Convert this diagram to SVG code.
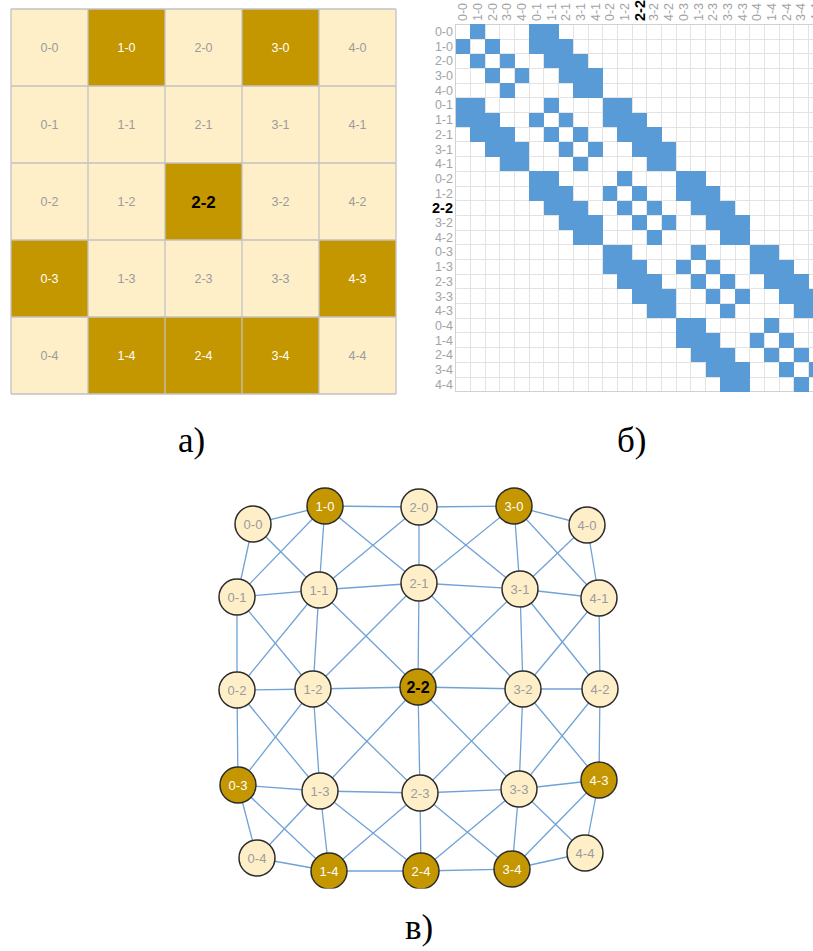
<svg xmlns="http://www.w3.org/2000/svg" width="813" height="951" viewBox="0 0 813 951">
  <style>
    .lt{fill:#FEEFC9}
    .dk{fill:#C49600}
    .t{font-family:"Liberation Sans",Arial,sans-serif;font-size:12.5px;text-anchor:middle;fill:#9b9b9b}
    .tw{fill:#ffffff}
    .tb{font-weight:bold;fill:#000000;font-size:17px}
    .mt{font-family:"Liberation Sans",Arial,sans-serif;font-size:12.5px;fill:#a3a3a3}
    .mb{font-weight:bold;fill:#000000;font-size:14.5px}
    .bl{fill:#589BD7}
    .cap{font-family:"Liberation Serif","Times New Roman",serif;font-size:35px;fill:#000000}
    .edge{stroke:#6FA2D6;stroke-width:1.3;fill:none}
    .node circle{stroke:#2b2b2b;stroke-width:1.5}
    .gt{font-family:"Liberation Sans",Arial,sans-serif;font-size:13px;text-anchor:middle;fill:#9b9b9b}
    .gw{fill:#ffffff}
    .gb{font-weight:bold;fill:#000000;font-size:16px}
  </style>
  <defs>
    <clipPath id="graphClip"><rect x="0" y="470" width="813" height="418.5"/></clipPath>
  </defs>
  <rect width="813" height="951" fill="#ffffff"/>

  <!-- a) 5x5 board -->
  <g id="board">
    <rect x="11" y="9" width="385" height="385" class="lt"/>
    <rect x="88" y="9" width="77" height="77" class="dk"/>
    <rect x="242" y="9" width="77" height="77" class="dk"/>
    <rect x="165" y="163" width="77" height="77" class="dk"/>
    <rect x="11" y="240" width="77" height="77" class="dk"/>
    <rect x="319" y="240" width="77" height="77" class="dk"/>
    <rect x="88" y="317" width="77" height="77" class="dk"/>
    <rect x="165" y="317" width="77" height="77" class="dk"/>
    <rect x="242" y="317" width="77" height="77" class="dk"/>
    <path d="M11 9V394M88 9V394M165 9V394M242 9V394M319 9V394M396 9V394M11 9H396M11 86H396M11 163H396M11 240H396M11 317H396M11 394H396" fill="none" stroke="#c2c2c2" stroke-width="1.3"/>
    <g class="t">
      <text x="49.5" y="52">0-0</text><text x="126.5" y="52" class="tw">1-0</text><text x="203.5" y="52">2-0</text><text x="280.5" y="52" class="tw">3-0</text><text x="357.5" y="52">4-0</text>
      <text x="49.5" y="129">0-1</text><text x="126.5" y="129">1-1</text><text x="203.5" y="129">2-1</text><text x="280.5" y="129">3-1</text><text x="357.5" y="129">4-1</text>
      <text x="49.5" y="206">0-2</text><text x="126.5" y="206">1-2</text><text x="203.5" y="207.5" class="tb">2-2</text><text x="280.5" y="206">3-2</text><text x="357.5" y="206">4-2</text>
      <text x="49.5" y="283" class="tw">0-3</text><text x="126.5" y="283">1-3</text><text x="203.5" y="283">2-3</text><text x="280.5" y="283">3-3</text><text x="357.5" y="283" class="tw">4-3</text>
      <text x="49.5" y="360">0-4</text><text x="126.5" y="360" class="tw">1-4</text><text x="203.5" y="360" class="tw">2-4</text><text x="280.5" y="360" class="tw">3-4</text><text x="357.5" y="360">4-4</text>
    </g>
  </g>

  <!-- b) adjacency matrix, drawn in cell units -->
  <g id="matrix">
    <g transform="translate(455.7 24.3) scale(14.7)" shape-rendering="crispEdges">
      <path vector-effect="non-scaling-stroke" stroke="#e3e3e3" stroke-width="1" fill="none" d="M1 0V25M2 0V25M3 0V25M4 0V25M5 0V25M6 0V25M7 0V25M8 0V25M9 0V25M10 0V25M11 0V25M12 0V25M13 0V25M14 0V25M15 0V25M16 0V25M17 0V25M18 0V25M19 0V25M20 0V25M21 0V25M22 0V25M23 0V25M24 0V25M0 1H25M0 2H25M0 3H25M0 4H25M0 5H25M0 6H25M0 7H25M0 8H25M0 9H25M0 10H25M0 11H25M0 12H25M0 13H25M0 14H25M0 15H25M0 16H25M0 17H25M0 18H25M0 19H25M0 20H25M0 21H25M0 22H25M0 23H25M0 24H25"/>
      <path vector-effect="non-scaling-stroke" stroke="#d2d2d2" stroke-width="1" fill="none" d="M0 0V25H25M0 0H25"/>
      <g class="bl">
        <!-- row 0-0 .. 4-0 -->
        <rect x="1" y="0" width="1" height="1"/><rect x="5" y="0" width="2" height="1"/>
        <rect x="0" y="1" width="1" height="1"/><rect x="2" y="1" width="1" height="1"/><rect x="5" y="1" width="3" height="1"/>
        <rect x="1" y="2" width="1" height="1"/><rect x="3" y="2" width="1" height="1"/><rect x="6" y="2" width="3" height="1"/>
        <rect x="2" y="3" width="1" height="1"/><rect x="4" y="3" width="1" height="1"/><rect x="7" y="3" width="3" height="1"/>
        <rect x="3" y="4" width="1" height="1"/><rect x="8" y="4" width="2" height="1"/>
        <!-- row 0-1 .. 4-1 -->
        <rect x="0" y="5" width="2" height="1"/><rect x="6" y="5" width="1" height="1"/><rect x="10" y="5" width="2" height="1"/>
        <rect x="0" y="6" width="3" height="1"/><rect x="5" y="6" width="1" height="1"/><rect x="7" y="6" width="1" height="1"/><rect x="10" y="6" width="3" height="1"/>
        <rect x="1" y="7" width="3" height="1"/><rect x="6" y="7" width="1" height="1"/><rect x="8" y="7" width="1" height="1"/><rect x="11" y="7" width="3" height="1"/>
        <rect x="2" y="8" width="3" height="1"/><rect x="7" y="8" width="1" height="1"/><rect x="9" y="8" width="1" height="1"/><rect x="12" y="8" width="3" height="1"/>
        <rect x="3" y="9" width="2" height="1"/><rect x="8" y="9" width="1" height="1"/><rect x="13" y="9" width="2" height="1"/>
        <!-- row 0-2 .. 4-2 -->
        <rect x="5" y="10" width="2" height="1"/><rect x="11" y="10" width="1" height="1"/><rect x="15" y="10" width="2" height="1"/>
        <rect x="5" y="11" width="3" height="1"/><rect x="10" y="11" width="1" height="1"/><rect x="12" y="11" width="1" height="1"/><rect x="15" y="11" width="3" height="1"/>
        <rect x="6" y="12" width="3" height="1"/><rect x="11" y="12" width="1" height="1"/><rect x="13" y="12" width="1" height="1"/><rect x="16" y="12" width="3" height="1"/>
        <rect x="7" y="13" width="3" height="1"/><rect x="12" y="13" width="1" height="1"/><rect x="14" y="13" width="1" height="1"/><rect x="17" y="13" width="3" height="1"/>
        <rect x="8" y="14" width="2" height="1"/><rect x="13" y="14" width="1" height="1"/><rect x="18" y="14" width="2" height="1"/>
        <!-- row 0-3 .. 4-3 -->
        <rect x="10" y="15" width="2" height="1"/><rect x="16" y="15" width="1" height="1"/><rect x="20" y="15" width="2" height="1"/>
        <rect x="10" y="16" width="3" height="1"/><rect x="15" y="16" width="1" height="1"/><rect x="17" y="16" width="1" height="1"/><rect x="20" y="16" width="3" height="1"/>
        <rect x="11" y="17" width="3" height="1"/><rect x="16" y="17" width="1" height="1"/><rect x="18" y="17" width="1" height="1"/><rect x="21" y="17" width="3" height="1"/>
        <rect x="12" y="18" width="3" height="1"/><rect x="17" y="18" width="1" height="1"/><rect x="19" y="18" width="1" height="1"/><rect x="22" y="18" width="3" height="1"/>
        <rect x="13" y="19" width="2" height="1"/><rect x="18" y="19" width="1" height="1"/><rect x="23" y="19" width="2" height="1"/>
        <!-- row 0-4 .. 4-4 -->
        <rect x="15" y="20" width="2" height="1"/><rect x="21" y="20" width="1" height="1"/>
        <rect x="15" y="21" width="3" height="1"/><rect x="20" y="21" width="1" height="1"/><rect x="22" y="21" width="1" height="1"/>
        <rect x="16" y="22" width="3" height="1"/><rect x="21" y="22" width="1" height="1"/><rect x="23" y="22" width="1" height="1"/>
        <rect x="17" y="23" width="3" height="1"/><rect x="22" y="23" width="1" height="1"/><rect x="24" y="23" width="1" height="1"/>
        <rect x="18" y="24" width="2" height="1"/><rect x="23" y="24" width="1" height="1"/>
      </g>
    </g>
    <!-- row labels -->
    <g class="mt" text-anchor="end">
      <text x="453" y="35.95">0-0</text><text x="453" y="50.65">1-0</text><text x="453" y="65.35">2-0</text><text x="453" y="80.05">3-0</text><text x="453" y="94.75">4-0</text>
      <text x="453" y="109.45">0-1</text><text x="453" y="124.15">1-1</text><text x="453" y="138.85">2-1</text><text x="453" y="153.55">3-1</text><text x="453" y="168.25">4-1</text>
      <text x="453" y="182.95">0-2</text><text x="453" y="197.65">1-2</text><text x="453" y="213.2" class="mb">2-2</text><text x="453" y="227.05">3-2</text><text x="453" y="241.75">4-2</text>
      <text x="453" y="256.45">0-3</text><text x="453" y="271.15">1-3</text><text x="453" y="285.85">2-3</text><text x="453" y="300.55">3-3</text><text x="453" y="315.25">4-3</text>
      <text x="453" y="329.95">0-4</text><text x="453" y="344.65">1-4</text><text x="453" y="359.35">2-4</text><text x="453" y="374.05">3-4</text><text x="453" y="388.75">4-4</text>
    </g>
    <!-- column labels, read bottom to top -->
    <g class="mt">
      <text transform="translate(467.35 21) rotate(-90)">0-0</text><text transform="translate(482.05 21) rotate(-90)">1-0</text><text transform="translate(496.75 21) rotate(-90)">2-0</text><text transform="translate(511.45 21) rotate(-90)">3-0</text><text transform="translate(526.15 21) rotate(-90)">4-0</text>
      <text transform="translate(540.85 21) rotate(-90)">0-1</text><text transform="translate(555.55 21) rotate(-90)">1-1</text><text transform="translate(570.25 21) rotate(-90)">2-1</text><text transform="translate(584.95 21) rotate(-90)">3-1</text><text transform="translate(599.65 21) rotate(-90)">4-1</text>
      <text transform="translate(614.35 21) rotate(-90)">0-2</text><text transform="translate(629.05 21) rotate(-90)">1-2</text><text transform="translate(644.6 21) rotate(-90)" class="mb">2-2</text><text transform="translate(658.45 21) rotate(-90)">3-2</text><text transform="translate(673.15 21) rotate(-90)">4-2</text>
      <text transform="translate(687.85 21) rotate(-90)">0-3</text><text transform="translate(702.55 21) rotate(-90)">1-3</text><text transform="translate(717.25 21) rotate(-90)">2-3</text><text transform="translate(731.95 21) rotate(-90)">3-3</text><text transform="translate(746.65 21) rotate(-90)">4-3</text>
      <text transform="translate(761.35 21) rotate(-90)">0-4</text><text transform="translate(776.05 21) rotate(-90)">1-4</text><text transform="translate(790.75 21) rotate(-90)">2-4</text><text transform="translate(805.45 21) rotate(-90)">3-4</text><text transform="translate(820.15 21) rotate(-90)">4-4</text>
    </g>
  </g>

  <!-- captions -->
  <text class="cap" x="178" y="452">а)</text>
  <text class="cap" x="617" y="452">б)</text>
  <text class="cap" x="405" y="939">в)</text>

  <!-- c) king-move graph -->
  <g id="graph" clip-path="url(#graphClip)">
    <g id="edges" class="edge">
      <!-- horizontal -->
      <line x1="253" y1="524" x2="325" y2="506"/><line x1="325" y1="506" x2="419" y2="507"/><line x1="419" y1="507" x2="514" y2="506"/><line x1="514" y1="506" x2="587" y2="525"/>
      <line x1="237" y1="597" x2="319" y2="590"/><line x1="319" y1="590" x2="419" y2="583"/><line x1="419" y1="583" x2="520" y2="589"/><line x1="520" y1="589" x2="599" y2="598"/>
      <line x1="237" y1="690" x2="313" y2="689"/><line x1="313" y1="689" x2="418" y2="687"/><line x1="418" y1="687" x2="523" y2="689"/><line x1="523" y1="689" x2="600" y2="689"/>
      <line x1="238" y1="785" x2="320" y2="791"/><line x1="320" y1="791" x2="420" y2="793"/><line x1="420" y1="793" x2="519" y2="789"/><line x1="519" y1="789" x2="599" y2="780"/>
      <line x1="257" y1="858" x2="329" y2="871"/><line x1="329" y1="871" x2="421" y2="871"/><line x1="421" y1="871" x2="512" y2="869"/><line x1="512" y1="869" x2="585" y2="853"/>
      <!-- vertical -->
      <line x1="253" y1="524" x2="237" y2="597"/><line x1="237" y1="597" x2="237" y2="690"/><line x1="237" y1="690" x2="238" y2="785"/><line x1="238" y1="785" x2="257" y2="858"/>
      <line x1="325" y1="506" x2="319" y2="590"/><line x1="319" y1="590" x2="313" y2="689"/><line x1="313" y1="689" x2="320" y2="791"/><line x1="320" y1="791" x2="329" y2="871"/>
      <line x1="419" y1="507" x2="419" y2="583"/><line x1="419" y1="583" x2="418" y2="687"/><line x1="418" y1="687" x2="420" y2="793"/><line x1="420" y1="793" x2="421" y2="871"/>
      <line x1="514" y1="506" x2="520" y2="589"/><line x1="520" y1="589" x2="523" y2="689"/><line x1="523" y1="689" x2="519" y2="789"/><line x1="519" y1="789" x2="512" y2="869"/>
      <line x1="587" y1="525" x2="599" y2="598"/><line x1="599" y1="598" x2="600" y2="689"/><line x1="600" y1="689" x2="599" y2="780"/><line x1="599" y1="780" x2="585" y2="853"/>
      <!-- diagonal down-right -->
      <line x1="253" y1="524" x2="319" y2="590"/><line x1="325" y1="506" x2="419" y2="583"/><line x1="419" y1="507" x2="520" y2="589"/><line x1="514" y1="506" x2="599" y2="598"/>
      <line x1="237" y1="597" x2="313" y2="689"/><line x1="319" y1="590" x2="418" y2="687"/><line x1="419" y1="583" x2="523" y2="689"/><line x1="520" y1="589" x2="600" y2="689"/>
      <line x1="237" y1="690" x2="320" y2="791"/><line x1="313" y1="689" x2="420" y2="793"/><line x1="418" y1="687" x2="519" y2="789"/><line x1="523" y1="689" x2="599" y2="780"/>
      <line x1="238" y1="785" x2="329" y2="871"/><line x1="320" y1="791" x2="421" y2="871"/><line x1="420" y1="793" x2="512" y2="869"/><line x1="519" y1="789" x2="585" y2="853"/>
      <!-- diagonal down-left -->
      <line x1="325" y1="506" x2="237" y2="597"/><line x1="419" y1="507" x2="319" y2="590"/><line x1="514" y1="506" x2="419" y2="583"/><line x1="587" y1="525" x2="520" y2="589"/>
      <line x1="319" y1="590" x2="237" y2="690"/><line x1="419" y1="583" x2="313" y2="689"/><line x1="520" y1="589" x2="418" y2="687"/><line x1="599" y1="598" x2="523" y2="689"/>
      <line x1="313" y1="689" x2="238" y2="785"/><line x1="418" y1="687" x2="320" y2="791"/><line x1="523" y1="689" x2="420" y2="793"/><line x1="600" y1="689" x2="519" y2="789"/>
      <line x1="320" y1="791" x2="257" y2="858"/><line x1="420" y1="793" x2="329" y2="871"/><line x1="519" y1="789" x2="421" y2="871"/><line x1="599" y1="780" x2="512" y2="869"/>
    </g>
    <g id="n0-0" class="node"><circle cx="253" cy="524" r="18" class="lt"/><text x="253" y="528.5" class="gt">0-0</text></g>
    <g id="n1-0" class="node"><circle cx="325" cy="506" r="18" class="dk"/><text x="325" y="510.5" class="gt gw">1-0</text></g>
    <g id="n2-0" class="node"><circle cx="419" cy="507" r="18" class="lt"/><text x="419" y="511.5" class="gt">2-0</text></g>
    <g id="n3-0" class="node"><circle cx="514" cy="506" r="18" class="dk"/><text x="514" y="510.5" class="gt gw">3-0</text></g>
    <g id="n4-0" class="node"><circle cx="587" cy="525" r="18" class="lt"/><text x="587" y="529.5" class="gt">4-0</text></g>
    <g id="n0-1" class="node"><circle cx="237" cy="597" r="18" class="lt"/><text x="237" y="601.5" class="gt">0-1</text></g>
    <g id="n1-1" class="node"><circle cx="319" cy="590" r="18" class="lt"/><text x="319" y="594.5" class="gt">1-1</text></g>
    <g id="n2-1" class="node"><circle cx="419" cy="583" r="18" class="lt"/><text x="419" y="587.5" class="gt">2-1</text></g>
    <g id="n3-1" class="node"><circle cx="520" cy="589" r="18" class="lt"/><text x="520" y="593.5" class="gt">3-1</text></g>
    <g id="n4-1" class="node"><circle cx="599" cy="598" r="18" class="lt"/><text x="599" y="602.5" class="gt">4-1</text></g>
    <g id="n0-2" class="node"><circle cx="237" cy="690" r="18" class="lt"/><text x="237" y="694.5" class="gt">0-2</text></g>
    <g id="n1-2" class="node"><circle cx="313" cy="689" r="18" class="lt"/><text x="313" y="693.5" class="gt">1-2</text></g>
    <g id="n2-2" class="node"><circle cx="418" cy="687" r="18" class="dk"/><text x="418" y="692.7" class="gt gb">2-2</text></g>
    <g id="n3-2" class="node"><circle cx="523" cy="689" r="18" class="lt"/><text x="523" y="693.5" class="gt">3-2</text></g>
    <g id="n4-2" class="node"><circle cx="600" cy="689" r="18" class="lt"/><text x="600" y="693.5" class="gt">4-2</text></g>
    <g id="n0-3" class="node"><circle cx="238" cy="785" r="18" class="dk"/><text x="238" y="789.5" class="gt gw">0-3</text></g>
    <g id="n1-3" class="node"><circle cx="320" cy="791" r="18" class="lt"/><text x="320" y="795.5" class="gt">1-3</text></g>
    <g id="n2-3" class="node"><circle cx="420" cy="793" r="18" class="lt"/><text x="420" y="797.5" class="gt">2-3</text></g>
    <g id="n3-3" class="node"><circle cx="519" cy="789" r="18" class="lt"/><text x="519" y="793.5" class="gt">3-3</text></g>
    <g id="n4-3" class="node"><circle cx="599" cy="780" r="18" class="dk"/><text x="599" y="784.5" class="gt gw">4-3</text></g>
    <g id="n0-4" class="node"><circle cx="257" cy="858" r="18" class="lt"/><text x="257" y="862.5" class="gt">0-4</text></g>
    <g id="n1-4" class="node"><circle cx="329" cy="871" r="18" class="dk"/><text x="329" y="875.5" class="gt gw">1-4</text></g>
    <g id="n2-4" class="node"><circle cx="421" cy="871" r="18" class="dk"/><text x="421" y="875.5" class="gt gw">2-4</text></g>
    <g id="n3-4" class="node"><circle cx="512" cy="869" r="18" class="dk"/><text x="512" y="873.5" class="gt gw">3-4</text></g>
    <g id="n4-4" class="node"><circle cx="585" cy="853" r="18" class="lt"/><text x="585" y="857.5" class="gt">4-4</text></g>
  </g>
</svg>
